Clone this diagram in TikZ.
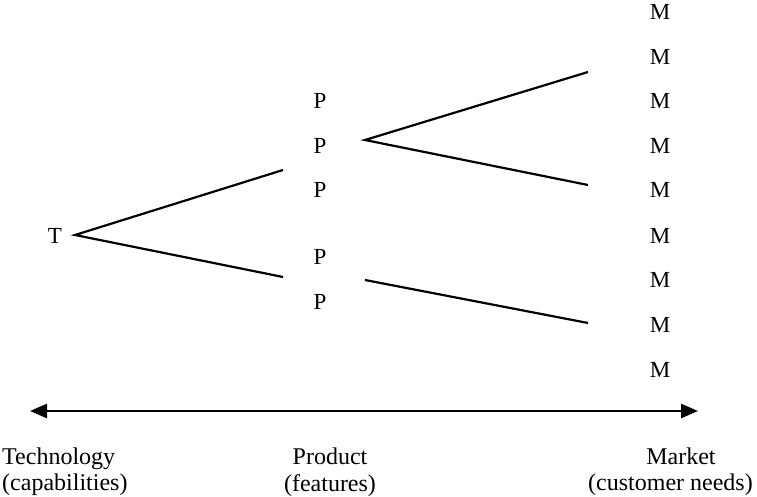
\documentclass[tikz,border=0pt]{standalone}
\usepackage{fontspec}
\setmainfont{Liberation Serif}
\usetikzlibrary{arrows.meta}
\begin{document}
\begin{tikzpicture}[x=1pt,y=-1pt,
  letter/.style={inner sep=0pt,font=\fontsize{23}{23}\selectfont},
  axislabel/.style={inner sep=0pt,align=center,font=\fontsize{24}{26}\selectfont},
  branch/.style={line width=2.2pt},
  axis/.style={line width=2.6pt,{Triangle[length=17pt,width=14pt]}-{Triangle[length=17pt,width=14pt]}}]
\useasboundingbox (0,0) rectangle (757,497);

% technology root
\node[letter] (t) at (55,236) {T};
% products
\node[letter] (p1) at (320,101) {P};
\node[letter] (p2) at (320,146) {P};
\node[letter] (p3) at (320,190) {P};
\node[letter] (p4) at (320,257) {P};
\node[letter] (p5) at (320,302) {P};
% markets
\foreach \i/\y in {1/12,2/57,3/101,4/146,5/190,6/236,7/280,8/325,9/370}
  \node[letter] (m\i) at (660,\y) {M};

% branch end points
\coordinate (ta) at (75,235);
\coordinate (tb1) at (283,170);
\coordinate (tb2) at (283,277);
\coordinate (pa) at (365,140);
\coordinate (pb) at (365,280);
\coordinate (ma) at (588,72);
\coordinate (mb) at (588,185);
\coordinate (mc) at (588,323);

\draw[branch] (tb1) -- (ta) -- (tb2);
\draw[branch] (ma) -- (pa) -- (mb);
\draw[branch] (pb) -- (mc);

% value-chain axis
\coordinate (al) at (30,411);
\coordinate (ar) at (698,411);
\draw[axis] (al) -- (ar);

\node[axislabel,anchor=north west] (lt) at (2,448) {Technology};
\node[axislabel,anchor=north west] (lc) at (2,474) {(capabilities)};
\node[axislabel,anchor=north] (lp) at (330,448) {Product};
\node[axislabel,anchor=north] (lf) at (330,474) {(features)};
\node[axislabel,anchor=north] (lm) at (681,448) {Market};
\node[axislabel,anchor=north west] (ln) at (588,474) {(customer needs)};
\end{tikzpicture}
\end{document}
